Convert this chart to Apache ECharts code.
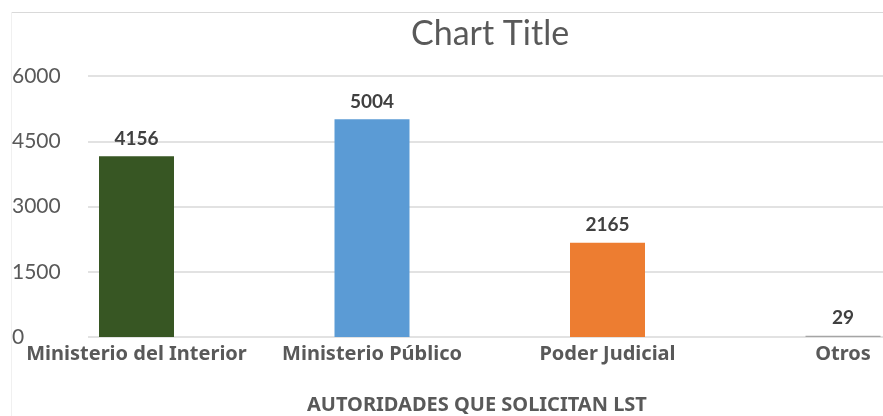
<!DOCTYPE html>
<html lang="es">
<head>
    <meta charset="UTF-8">
    <title>Chart Title</title>
    <script src="https://cdn.jsdelivr.net/npm/echarts@6/dist/echarts.min.js"></script>
    <style>
        html, body {margin: 0; padding: 0; background: #fff;}
    </style>
</head>
<body>
<div id="main" style="width:883px;height:416px;"></div>
<script>
    // datos
    var categorias = ['Ministerio del Interior', 'Ministerio Público', 'Poder Judicial', 'Otros'];
    var valores = [4156, 5004, 2165, 29];
    var colores = ['#375623', '#5B9BD5', '#ED7D31', '#A5A5A5'];
    var ticksY = [0, 1500, 3000, 4500, 6000];

    var fuente = 'Lato, "Noto Sans", sans-serif';
    var fuenteNegrita = '"Noto Sans", sans-serif';
    var myChart = echarts.init(document.getElementById('main'));

    myChart.setOption({
        animation: false,
        textStyle: {fontFamily: fuente},
        title: [
            {text: 'Chart Title', left: 406, top: 12,
             textStyle: {fontSize: 34, fontWeight: 'normal', color: '#595959', fontFamily: fuente}},
            {text: 'AUTORIDADES QUE SOLICITAN LST', left: 302, top: 390,
             textStyle: {fontSize: 20, fontWeight: 'bold', color: '#595959', fontFamily: fuenteNegrita}}
        ],
        // borde del grafico (recortado)
        graphic: [
            {type: 'line', shape: {x1: 11, y1: 12.5, x2: 883, y2: 12.5}, style: {stroke: '#d9d9d9', lineWidth: 1}},
            {type: 'line', shape: {x1: 11.5, y1: 12, x2: 11.5, y2: 416}, style: {stroke: '#f0f0f0', lineWidth: 1}}
        ],
        grid: [
            // lineas de division y eje y
            {left: 88, right: 0, top: 76, bottom: 79, outerBoundsMode: 'none'},
            // barras (area de trazado mas ancha que la imagen)
            {left: 18.75, width: 942, top: 76, bottom: 79, outerBoundsMode: 'none'}
        ],
        xAxis: [
            {gridIndex: 0, type: 'category', data: categorias, show: false},
            {gridIndex: 1, type: 'category', data: categorias,
             axisLine: {show: false}, axisTick: {show: false},
             axisLabel: {interval: 0, margin: 7, fontSize: 20, fontWeight: 'bold', color: '#595959', fontFamily: fuenteNegrita}}
        ],
        yAxis: [
            {gridIndex: 0, type: 'value', min: ticksY[0], max: ticksY[ticksY.length - 1], interval: 1500,
             axisLine: {show: false}, axisTick: {show: false},
             splitLine: {lineStyle: {color: '#d9d9d9', width: 1.5}},
             axisLabel: {align: 'left', margin: 76, fontSize: 21, color: '#595959', fontFamily: fuente,
                         formatter: function (v) { return String(v); }}},
            {gridIndex: 1, type: 'value', min: ticksY[0], max: ticksY[ticksY.length - 1], interval: 1500,
             show: false, splitLine: {show: false}}
        ],
        series: [{
            type: 'bar',
            xAxisIndex: 1,
            yAxisIndex: 1,
            barWidth: 75,
            data: valores.map(function (v, i) {
                return {value: v, itemStyle: {color: colores[i]}};
            }),
            label: {
                show: true, position: 'top', distance: 8,
                fontSize: 19, fontWeight: 'bold', color: '#404040', fontFamily: fuente
            }
        }]
    });
</script>
</body>
</html>
